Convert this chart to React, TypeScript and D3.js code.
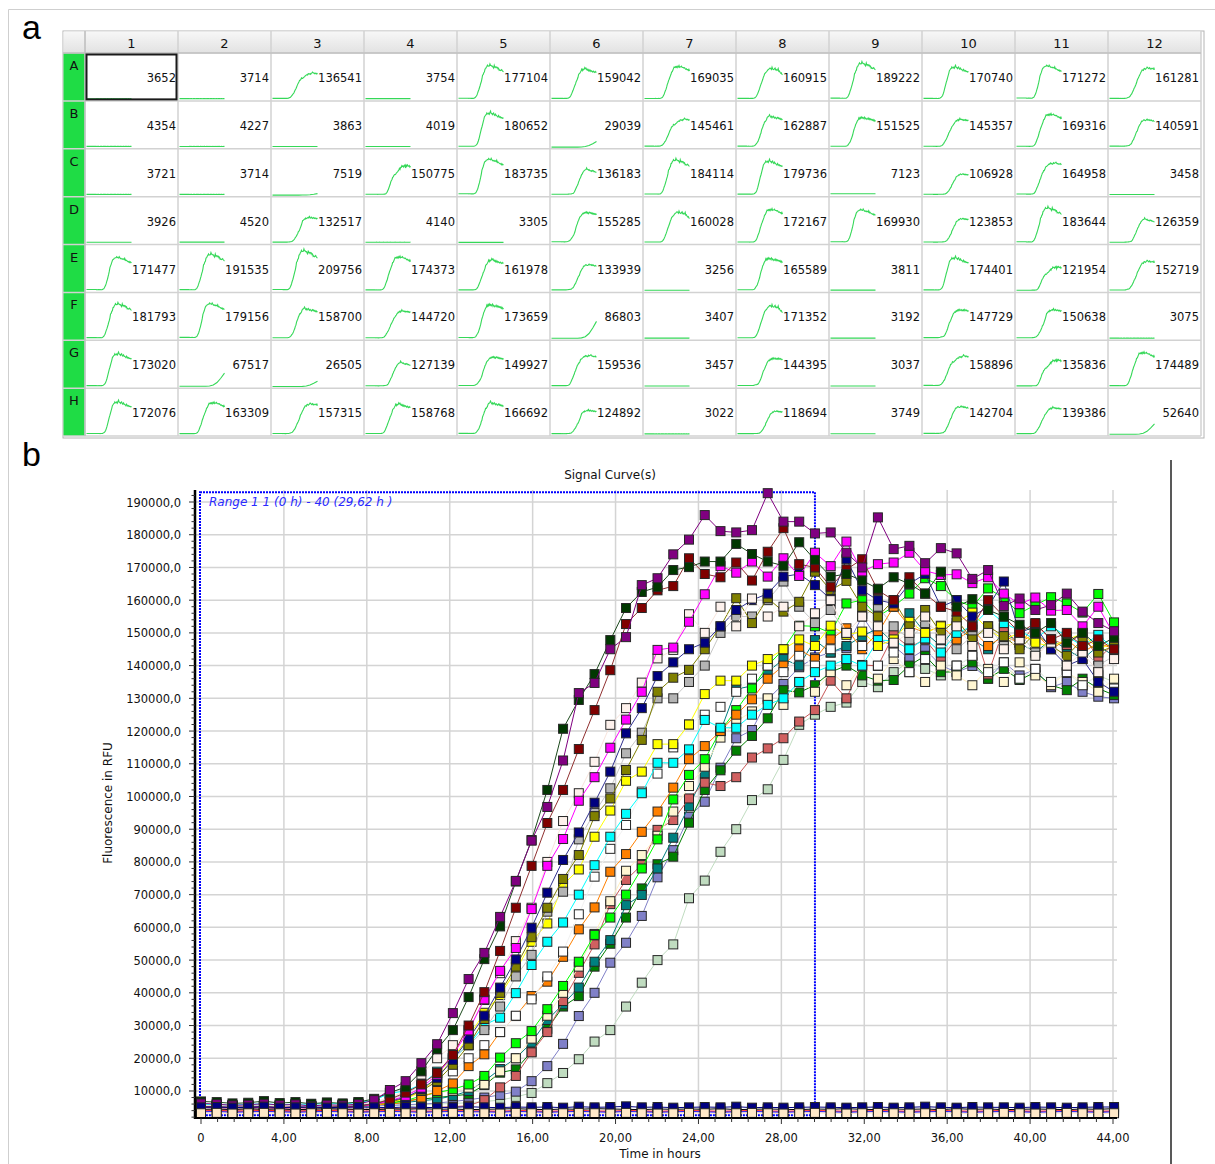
import { useEffect, useRef } from 'react';
import * as d3 from 'd3';

// ---- panel a: plate overview ----
const ROWS = ['A', 'B', 'C', 'D', 'E', 'F', 'G', 'H'];
const COLS = ['1', '2', '3', '4', '5', '6', '7', '8', '9', '10', '11', '12'];

const WELL_VALUES = [
  [3652, 3714, 136541, 3754, 177104, 159042, 169035, 160915, 189222, 170740, 171272, 161281],
  [4354, 4227, 3863, 4019, 180652, 29039, 145461, 162887, 151525, 145357, 169316, 140591],
  [3721, 3714, 7519, 150775, 183735, 136183, 184114, 179736, 7123, 106928, 164958, 3458],
  [3926, 4520, 132517, 4140, 3305, 155285, 160028, 172167, 169930, 123853, 183644, 126359],
  [171477, 191535, 209756, 174373, 161978, 133939, 3256, 165589, 3811, 174401, 121954, 152719],
  [181793, 179156, 158700, 144720, 173659, 86803, 3407, 171352, 3192, 147729, 150638, 3075],
  [173020, 67517, 26505, 127139, 149927, 159536, 3457, 144395, 3037, 158896, 135836, 174489],
  [172076, 163309, 157315, 158768, 166692, 124892, 3022, 118694, 3749, 142704, 139386, 52640],
];

// which curve of panel b each mini plot follows (-1 = late rise only)
const WELL_CURVE = [
  [21, 21, 9, 21, 0, 6, 3, 5, 0, 2, 1, 12],
  [21, 21, 21, 21, 2, -1, 9, 7, 4, 11, 3, 16],
  [21, 21, -1, 14, 1, 17, 0, 2, 21, 18, 8, 21],
  [21, 21, 15, 21, 21, 10, 5, 3, 1, 18, 0, 17],
  [1, 0, 0, 3, 6, 16, 21, 4, 21, 2, 14, 12],
  [0, 1, 7, 11, 4, -1, 21, 5, 21, 13, 15, 21],
  [2, -1, -1, 17, 10, 8, 21, 13, 21, 9, 14, 3],
  [2, 3, 12, 6, 7, 15, 21, 18, 21, 16, 11, -1],
];

// shape of the wells that only start rising at the end (fraction of final value)
const LATE_RISE = [0.03, 0.03, 0.03, 0.03, 0.03, 0.03, 0.03, 0.03, 0.05, 0.12, 0.3, 0.62, 1.0];

// ---- panel b: signal curves, values in thousand RFU, one per cycle ----
const PURPLE = [6.2, 6.0, 5.6, 5.8, 6.1, 5.7, 5.9, 5.4, 5.8, 5.6, 6.0,
  7.2, 10.3, 13.0, 18.5, 24.3, 33.8, 44.2, 52.2, 63.2, 74.2,
  86.5, 96.8, 111.0, 131.6, 134.7, 145.0, 148.7, 164.6, 166.7, 174.0,
  178.5, 186.0, 181.1, 180.7, 181.4, 192.7, 184.0, 184.0, 180.4, 180.7,
  174.5, 170.0, 185.3, 175.6, 176.6, 171.3, 175.9, 174.3, 166.5, 169.2,
  158.2, 160.5, 157.0, 158.5, 162.0, 156.5, 153.0, 150.5];
const DARK_GREEN = [6.8, 6.6, 6.2, 6.4, 6.9, 6.3, 6.6, 6.1, 6.5, 6.2, 6.6,
  7.6, 9.5, 11.2, 16.0, 22.8, 28.6, 38.7, 50.3, 60.3, 74.0,
  86.7, 102.0, 120.7, 129.5, 137.4, 147.8, 157.6, 162.5, 164.0, 169.2,
  170.1, 171.8, 171.8, 177.2, 174.1, 171.8, 170.5, 177.7, 172.3, 167.2,
  168.0, 166.0, 163.5, 167.0, 165.0, 162.0, 168.7, 158.0, 160.3, 157.0,
  155.0, 152.5, 150.0, 153.0, 147.0, 150.0, 146.0, 148.5];
const DARK_RED = [5.2, 5.0, 5.1, 4.9, 5.2, 5.0, 5.1, 4.8, 5.0, 5.1, 5.4,
  6.0, 7.5, 9.5, 12.0, 15.5, 21.0, 30.0, 40.2, 52.8, 66.0,
  78.8, 91.9, 102.0, 114.5, 126.4, 138.6, 152.7, 157.6, 163.0, 164.3,
  172.8, 168.0, 167.0, 171.5, 166.0, 174.8, 182.0, 171.0, 170.0, 164.1,
  169.4, 172.5, 163.0, 160.0, 167.0, 162.0, 158.0, 156.5, 152.0, 160.0,
  155.0, 150.0, 153.0, 148.0, 150.0, 146.0, 148.0, 145.0];
const MAGENTA = [5.0, 4.9, 4.8, 5.0, 4.9, 4.7, 4.9, 4.8, 5.0, 4.9, 5.2,
  5.8, 7.0, 8.5, 11.0, 15.0, 21.0, 28.5, 38.0, 46.7, 53.7,
  65.6, 78.8, 87.0, 98.7, 105.9, 114.9, 123.5, 132.0, 144.8, 145.5,
  153.4, 161.8, 170.4, 168.4, 171.8, 167.2, 172.8, 167.4, 174.5, 170.4,
  177.9, 168.7, 171.0, 171.5, 174.5, 169.0, 167.7, 167.9, 165.2, 167.0,
  162.0, 158.8, 160.8, 156.8, 157.0, 152.0, 158.0, 149.4];
const WHITE_A = [5.6, 5.5, 5.3, 5.5, 5.4, 5.2, 5.5, 5.3, 5.4, 5.6, 5.8,
  6.5, 8.0, 10.0, 15.0, 20.0, 24.0, 28.6, 37.8, 46.0, 55.8,
  66.0, 80.0, 92.5, 101.0, 110.6, 121.9, 127.0, 134.8, 142.2, 144.8,
  155.7, 150.0, 158.0, 152.0, 160.5, 155.0, 158.0, 152.0, 156.0, 160.0,
  150.0, 155.0, 152.0, 147.0, 150.0, 155.0, 148.0, 152.0, 146.0, 150.0,
  145.0, 148.0, 143.0, 147.0, 140.0, 144.0, 138.0, 142.0];
const NAVY = [5.4, 5.3, 5.2, 5.4, 5.3, 5.1, 5.3, 5.2, 5.3, 5.4, 5.6,
  6.2, 7.0, 8.0, 10.5, 14.0, 19.5, 26.0, 33.0, 41.6, 50.2,
  59.9, 70.6, 80.6, 89.0, 98.1, 107.6, 119.3, 127.0, 136.8, 141.0,
  145.0, 147.0, 152.0, 157.0, 160.0, 162.0, 167.2, 168.0, 164.6, 160.3,
  172.5, 163.0, 160.0, 159.0, 165.0, 168.0, 158.0, 160.0, 155.0, 158.0,
  165.7, 150.0, 152.0, 145.0, 140.0, 142.0, 135.0, 132.0];
const OLIVE = [5.3, 5.2, 5.1, 5.3, 5.2, 5.0, 5.2, 5.1, 5.2, 5.3, 5.5,
  6.0, 6.5, 8.0, 10.0, 13.0, 18.0, 24.0, 32.0, 40.0, 48.0,
  57.0, 66.0, 74.8, 82.1, 94.0, 99.4, 108.1, 117.3, 132.0, 136.3,
  138.7, 145.0, 152.0, 160.6, 153.0, 160.6, 156.5, 159.5, 168.7, 163.0,
  165.9, 158.0, 155.0, 160.0, 152.0, 157.0, 150.0, 154.0, 148.0, 152.0,
  149.0, 145.0, 150.0, 146.0, 143.0, 148.0, 144.0, 146.0];
const SILVER = [5.5, 5.4, 5.3, 5.5, 5.4, 5.2, 5.4, 5.3, 5.4, 5.5, 5.8,
  6.3, 7.5, 9.0, 12.0, 15.5, 20.0, 24.0, 28.6, 35.8, 45.0,
  51.6, 64.8, 70.9, 86.9, 95.0, 102.5, 113.2, 119.5, 130.0, 130.0,
  135.0, 140.0, 150.0, 155.0, 155.0, 160.0, 165.7, 158.0, 153.0, 157.0,
  150.0, 155.0, 158.0, 152.0, 148.0, 153.0, 150.0, 145.0, 149.0, 152.0,
  146.0, 150.0, 144.0, 147.0, 142.0, 145.0, 140.0, 143.0];
const YELLOW = [5.0, 4.9, 4.8, 5.0, 4.9, 4.7, 4.9, 4.8, 4.9, 5.0, 5.3,
  5.8, 6.5, 7.5, 10.0, 14.0, 20.0, 26.6, 33.9, 39.3, 46.8,
  55.6, 61.2, 73.0, 77.7, 87.7, 95.7, 104.8, 107.6, 116.0, 116.0,
  122.0, 131.3, 135.4, 135.4, 140.0, 142.0, 145.0, 148.0, 146.0, 152.2,
  149.4, 150.4, 146.0, 148.0, 153.4, 150.0, 152.0, 153.0, 156.2, 151.0,
  148.0, 150.0, 147.0, 145.8, 148.0, 149.7, 145.0, 147.0];
const CYAN = [6.0, 5.8, 5.7, 5.9, 6.1, 5.8, 6.0, 5.9, 6.2, 6.0, 6.5,
  7.2, 9.3, 10.0, 12.0, 15.9, 20.0, 24.0, 30.2, 32.4, 39.9,
  48.5, 55.6, 61.5, 70.0, 79.0, 87.7, 94.7, 101.0, 110.3, 110.3,
  114.4, 123.4, 121.0, 121.0, 125.0, 128.0, 130.0, 135.0, 138.0, 140.0,
  142.0, 140.0, 147.8, 147.6, 145.0, 148.3, 144.0, 150.0, 152.0, 157.0,
  153.0, 150.7, 148.0, 152.0, 149.0, 146.0, 149.4, 145.0];
const WHITE_B = [5.7, 5.6, 5.5, 5.7, 5.6, 5.4, 5.6, 5.5, 5.6, 5.7, 6.0,
  6.6, 8.0, 9.5, 11.0, 13.0, 16.0, 20.0, 24.0, 28.0, 33.0,
  38.0, 45.0, 52.6, 64.0, 75.5, 84.0, 91.3, 101.5, 107.0, 115.0,
  122.0, 125.0, 127.4, 132.0, 136.0, 140.0, 138.0, 143.0, 140.0, 145.0,
  142.0, 146.0, 140.0, 144.0, 138.0, 142.0, 145.0, 140.0, 143.0, 138.0,
  141.0, 136.0, 139.0, 135.0, 138.0, 134.0, 137.0, 133.0];
const ORANGE = [5.2, 5.1, 5.0, 5.2, 5.1, 4.9, 5.1, 5.0, 5.1, 5.2, 5.4,
  5.8, 6.0, 6.5, 8.0, 10.0, 12.3, 17.6, 21.2, 28.0, 32.9,
  39.0, 43.4, 51.0, 59.4, 66.1, 77.0, 82.4, 89.2, 95.4, 102.7,
  111.4, 115.4, 120.0, 125.0, 129.7, 136.0, 140.0, 145.0, 142.0, 148.0,
  151.4, 145.0, 150.0, 158.0, 152.0, 150.0, 152.2, 148.0, 151.0, 146.0,
  149.0, 147.0, 150.0, 145.0, 148.0, 144.0, 147.0, 145.0];
const LIME = [5.1, 5.0, 4.9, 5.1, 5.0, 4.8, 5.0, 4.9, 5.0, 5.1, 5.3,
  5.6, 6.2, 7.0, 8.5, 9.5, 10.5, 12.0, 14.6, 20.2, 24.6,
  28.3, 35.0, 42.1, 49.5, 57.7, 63.0, 70.0, 78.0, 86.9, 99.1,
  106.6, 111.4, 120.0, 126.4, 133.0, 140.0, 145.0, 152.2, 152.0, 150.0,
  159.0, 160.0, 155.0, 158.0, 162.0, 166.7, 164.3, 160.0, 158.0, 163.6,
  160.6, 156.0, 158.5, 160.9, 159.0, 156.2, 161.9, 153.2];
const CREAM = [5.6, 5.5, 5.4, 5.6, 5.5, 5.3, 5.5, 5.4, 5.5, 5.6, 5.8,
  6.2, 7.0, 8.0, 9.0, 9.5, 10.0, 11.0, 12.0, 16.0, 20.0,
  26.0, 33.0, 40.0, 48.0, 58.0, 68.0, 77.3, 82.1, 88.0, 95.4,
  103.2, 109.1, 118.0, 122.9, 126.0, 130.0, 128.0, 135.0, 132.0, 138.0,
  134.0, 140.0, 136.0, 142.0, 138.0, 135.0, 140.0, 137.0, 134.0, 139.0,
  135.0, 141.0, 137.0, 134.0, 138.0, 135.0, 132.0, 136.0];
const SALMON = [4.3, 4.2, 4.1, 4.3, 4.2, 4.0, 4.2, 4.1, 4.2, 4.3, 4.4,
  4.5, 4.6, 4.7, 4.8, 5.0, 5.2, 5.5, 7.2, 11.1, 14.6,
  21.8, 28.0, 37.5, 46.1, 54.8, 67.1, 74.5, 79.1, 89.8, 92.8,
  99.4, 104.2, 103.2, 105.9, 111.9, 114.7, 117.8, 122.9, 126.4, 135.4,
  130.0, 140.2, 139.9, 149.4, 145.6, 148.0, 142.0, 148.3, 152.7, 137.3,
  151.4, 146.3, 152.7, 148.0, 146.3, 150.0, 142.0, 146.8];
const TEAL = [5.3, 5.2, 5.1, 5.3, 5.2, 5.0, 5.2, 5.1, 5.2, 5.3, 5.5,
  5.8, 6.0, 6.5, 7.0, 7.5, 8.5, 10.0, 13.0, 16.7, 20.0,
  24.8, 31.7, 36.5, 41.6, 49.5, 56.1, 66.8, 69.9, 78.0, 87.4,
  97.0, 107.1, 120.0, 132.8, 133.8, 138.0, 142.0, 140.0, 147.8, 144.0,
  146.0, 149.0, 151.4, 147.0, 156.0, 150.0, 146.0, 152.0, 148.0, 145.0,
  150.0, 147.0, 144.0, 148.0, 145.0, 142.0, 146.0, 143.0];
const GREEN = [5.6, 5.5, 5.4, 5.6, 5.5, 5.3, 5.5, 5.4, 5.5, 5.6, 5.8,
  6.0, 6.5, 7.0, 7.5, 8.0, 8.5, 9.0, 11.8, 15.6, 16.6,
  22.0, 29.0, 35.8, 39.0, 48.0, 55.0, 63.0, 71.9, 79.3, 81.6,
  92.0, 102.0, 108.0, 114.0, 118.5, 123.9, 132.5, 131.8, 134.0, 138.0,
  140.0, 137.0, 135.4, 135.6, 140.0, 143.0, 138.0, 138.1, 141.0, 136.0,
  139.0, 135.6, 138.0, 134.0, 132.5, 136.0, 133.0, 131.0];
const SLATE = [5.0, 4.9, 4.8, 5.0, 4.9, 4.7, 4.9, 4.8, 4.9, 5.0, 5.2,
  5.4, 5.6, 5.8, 6.0, 6.3, 6.8, 7.3, 8.0, 8.8, 9.8,
  13.0, 17.6, 24.4, 32.9, 40.0, 49.2, 55.3, 63.5, 75.3, 83.6,
  93.8, 98.4, 108.8, 117.8, 120.3, 129.7, 134.4, 139.5, 142.5, 144.0,
  145.3, 155.2, 148.0, 146.0, 142.0, 145.0, 140.0, 138.0, 139.9, 136.0,
  141.0, 137.0, 138.7, 133.4, 135.0, 132.0, 130.5, 130.0];
const PALE_GREEN = [5.4, 5.3, 5.2, 5.4, 5.3, 5.1, 5.3, 5.2, 5.3, 5.4, 5.5,
  5.5, 5.6, 5.7, 5.8, 6.0, 6.2, 6.4, 6.8, 7.2, 8.2,
  9.4, 12.4, 15.5, 19.7, 25.1, 28.6, 35.8, 43.1, 50.0, 54.8,
  68.9, 74.3, 83.1, 90.0, 98.9, 102.2, 111.2, 121.9, 125.0, 127.4,
  128.7, 135.0, 133.4, 138.0, 141.2, 139.0, 137.0, 140.0, 142.7, 138.0,
  140.0, 136.0, 139.0, 135.0, 138.0, 134.0, 137.0, 135.0];
const RED_FLAT = [3.9, 4.0, 3.8, 3.9, 4.0, 3.9, 3.8, 3.9, 4.0, 3.9, 3.8,
  3.9, 4.0, 3.9, 3.8, 3.9, 4.0, 3.9, 3.9, 3.8, 4.0,
  3.9, 3.8, 3.9, 4.0, 3.9, 3.8, 4.0, 3.9, 3.8, 3.9,
  4.0, 3.9, 3.8, 3.9, 4.0, 3.9, 3.8, 3.9, 4.0, 3.9,
  3.8, 3.9, 4.0, 3.9, 3.8, 3.9, 4.0, 3.9, 3.8, 3.9,
  4.0, 3.9, 3.8, 3.9, 4.0, 3.9, 3.8, 3.9];
const BLUE_FLAT = [3.6, 3.7, 3.5, 3.6, 3.7, 3.6, 3.5, 3.6, 3.7, 3.6, 3.5,
  3.6, 3.7, 3.6, 3.5, 3.6, 3.7, 3.6, 3.6, 3.5, 3.7,
  3.6, 3.5, 3.6, 3.7, 3.6, 3.5, 3.7, 3.6, 3.5, 3.6,
  3.7, 3.6, 3.5, 3.6, 3.7, 3.6, 3.5, 3.6, 3.7, 3.6,
  3.5, 3.6, 3.7, 3.6, 3.5, 3.6, 3.7, 3.6, 3.5, 3.6,
  3.7, 3.6, 3.5, 3.6, 3.7, 3.6, 3.5, 3.6];
const BLACK_FLAT = [4.4, 4.5, 4.3, 4.6, 4.4, 4.5, 4.3, 4.4, 4.6, 4.5, 4.4,
  4.3, 4.5, 4.4, 4.6, 4.4, 4.5, 4.3, 4.4, 4.5, 4.6,
  4.4, 4.3, 4.5, 4.4, 4.6, 4.5, 4.4, 4.3, 4.5, 4.4,
  4.5, 4.4, 4.6, 4.3, 4.4, 4.5, 4.4, 4.3, 4.5, 4.4,
  4.6, 4.4, 4.3, 4.5, 4.4, 4.5, 4.3, 4.6, 4.4, 4.5,
  4.3, 4.4, 4.5, 4.4, 4.3, 4.5, 4.4, 4.6];
const NAVY_FLAT = [5.0, 5.1, 4.9, 5.0, 5.2, 4.9, 5.0, 5.1, 4.9, 5.0, 5.1,
  5.0, 4.9, 5.1, 5.0, 4.9, 5.0, 5.2, 5.0, 4.9, 5.1,
  5.0, 5.1, 4.9, 5.2, 5.0, 5.1, 5.3, 5.0, 5.1, 4.9,
  5.0, 5.1, 5.0, 5.2, 4.9, 5.0, 4.9, 5.0, 5.1, 5.0,
  4.9, 5.0, 5.1, 4.9, 5.0, 5.2, 5.0, 4.9, 5.1, 5.0,
  5.0, 4.9, 5.1, 5.0, 4.9, 5.0, 5.1, 5.1];
const CREAM_FLAT = [3.2, 3.3, 3.1, 3.2, 3.3, 3.2, 3.1, 3.2, 3.3, 3.2, 3.1,
  3.2, 3.3, 3.2, 3.1, 3.2, 3.3, 3.2, 3.2, 3.1, 3.3,
  3.2, 3.1, 3.2, 3.3, 3.2, 3.1, 3.3, 3.2, 3.1, 3.2,
  3.3, 3.2, 3.1, 3.2, 3.3, 3.2, 3.1, 3.2, 3.3, 3.2,
  3.1, 3.2, 3.3, 3.2, 3.1, 3.2, 3.3, 3.2, 3.1, 3.2,
  3.3, 3.2, 3.1, 3.2, 3.3, 3.2, 3.1, 3.2];

const SERIES = [
  { values: PURPLE, fill: '#800080', line: '#800080' },
  { values: DARK_GREEN, fill: '#003800', line: '#1c4a1c' },
  { values: DARK_RED, fill: '#800000', line: '#903030' },
  { values: MAGENTA, fill: '#ff00ff', line: '#ff00ff' },
  { values: WHITE_A, fill: '#fdf1ec', line: '#f8e4dc' },
  { values: NAVY, fill: '#000080', line: '#303090' },
  { values: OLIVE, fill: '#808000', line: '#808000' },
  { values: SILVER, fill: '#b4b4b4', line: '#c8c8c8' },
  { values: YELLOW, fill: '#ffff00', line: '#ffff00' },
  { values: CYAN, fill: '#00ffff', line: '#00ffff' },
  { values: WHITE_B, fill: '#ffffff', line: '#f2f2f2' },
  { values: ORANGE, fill: '#ff8000', line: '#ff8000' },
  { values: LIME, fill: '#00ff00', line: '#00ff00' },
  { values: CREAM, fill: '#fff6d2', line: '#fff0c0' },
  { values: SALMON, fill: '#d06060', line: '#c85858' },
  { values: TEAL, fill: '#008080', line: '#008080' },
  { values: GREEN, fill: '#008000', line: '#008000' },
  { values: SLATE, fill: '#8080c8', line: '#8080c8' },
  { values: PALE_GREEN, fill: '#c0dcc0', line: '#c0dcc0' },
  { values: RED_FLAT, fill: '#ff0000', line: '#ff0000' },
  { values: BLUE_FLAT, fill: '#0000ff', line: '#0000ff' },
  { values: BLACK_FLAT, fill: '#000000', line: '#000000' },
  { values: NAVY_FLAT, fill: '#000080', line: '#000080' },
  { values: CREAM_FLAT, fill: '#ffe8c8', line: '#ffe0c0' },
];

const CYCLE_HOURS = 29.62 / 39; // cycle 40 at 29,62 h
const RANGE_END = 29.62;
const X_TICKS = d3.range(0, 45, 4);
const Y_TICKS = d3.range(10000, 190001, 10000);

const FONT = 'DejaVu Sans, Verdana, sans-serif';

export default function App() {
  const svgRef = useRef<SVGSVGElement>(null);

  useEffect(() => {
    if (!svgRef.current) return;
    const svg = d3.select(svgRef.current);
    svg.selectAll('*').remove();

    // outer frame of the figure
    svg.append('path').attr('d', 'M8.5,1164V9.5H1215')
      .attr('fill', 'none').attr('stroke', '#cfcfcf');

    svg.append('text').attr('x', 22).attr('y', 39)
      .attr('font-family', 'Liberation Sans, Arial, sans-serif').attr('font-size', 34).text('a');
    svg.append('text').attr('x', 22).attr('y', 466)
      .attr('font-family', 'Liberation Sans, Arial, sans-serif').attr('font-size', 34).text('b');

    // ================= panel a =================
    const colX = d3.scaleLinear().domain([0, 12]).range([85, 1201]);
    const rowY = d3.scaleLinear().domain([0, 8]).range([53, 436]);
    const cellW = colX(1) - colX(0);
    const cellH = rowY(1) - rowY(0);

    const defs = svg.append('defs');
    const grad = defs.append('linearGradient').attr('id', 'hdr').attr('x1', 0).attr('y1', 0).attr('x2', 0).attr('y2', 1);
    grad.append('stop').attr('offset', '0%').attr('stop-color', '#f7f7f7');
    grad.append('stop').attr('offset', '100%').attr('stop-color', '#e2e2e2');

    const table = svg.append('g');
    table.append('rect').attr('x', 63).attr('y', 31).attr('width', 1141).attr('height', 407)
      .attr('fill', '#fff').attr('stroke', '#b4b4b4');
    table.append('rect').attr('x', 63.5).attr('y', 31.5).attr('width', 1137.5).attr('height', 21.5)
      .attr('fill', 'url(#hdr)');
    table.append('rect').attr('x', 63.5).attr('y', rowY(0)).attr('width', 21.5).attr('height', rowY(8) - rowY(0))
      .attr('fill', '#1fdc45');

    // grid
    table.selectAll('.vgrid').data(d3.range(13)).enter().append('line')
      .attr('x1', d => colX(d)).attr('x2', d => colX(d))
      .attr('y1', 31).attr('y2', rowY(8))
      .attr('stroke', '#d2d2d2').attr('stroke-width', 1.5);
    table.selectAll('.hgrid').data(d3.range(9)).enter().append('line')
      .attr('x1', 63).attr('x2', colX(12))
      .attr('y1', d => rowY(d)).attr('y2', d => rowY(d))
      .attr('stroke', '#d2d2d2').attr('stroke-width', 1.5);
    table.append('line').attr('x1', 63).attr('x2', colX(12)).attr('y1', 53).attr('y2', 53)
      .attr('stroke', '#b8b8b8');
    table.append('line').attr('x1', 85).attr('x2', 85).attr('y1', 31).attr('y2', rowY(8))
      .attr('stroke', '#b8b8b8');

    table.selectAll('.colLabel').data(COLS).enter().append('text')
      .attr('x', (_, i) => colX(i) + cellW / 2).attr('y', 48)
      .attr('text-anchor', 'middle').attr('font-family', FONT).attr('font-size', 13)
      .attr('fill', '#111').text(d => d);
    table.selectAll('.rowLabel').data(ROWS).enter().append('text')
      .attr('x', 74).attr('y', (_, i) => rowY(i) + 17)
      .attr('text-anchor', 'middle').attr('font-family', FONT).attr('font-size', 13)
      .attr('fill', '#111').text(d => d);

    // mini plots + values (mini plots show a longer lead-in than panel b)
    const spark = d3.line<number>();
    WELL_VALUES.forEach((row, r) => {
      row.forEach((val, c) => {
        const x0 = colX(c) + 1.5;
        const base = rowY(r + 1) - 1.5;
        const k = WELL_CURVE[r][c];
        let pts: [number, number][];
        if (k < 0) {
          const sx = d3.scaleLinear().domain([0, LATE_RISE.length - 1]).range([x0, x0 + 45]);
          pts = LATE_RISE.map((f, i) => [sx(i), base - (f * val) / 5000]);
        } else {
          const vals = SERIES[k].values;
          const mx = d3.max(vals) as number;
          const sx = d3.scaleLinear().domain([-15, vals.length - 1]).range([x0, x0 + 45]);
          pts = vals.map((v, i) => [sx(i), base - (v / mx) * val / 5000]);
          pts.unshift([x0, pts[0][1]]);
        }
        table.append('path').attr('d', spark(pts) as string)
          .attr('fill', 'none').attr('stroke', '#35d858').attr('stroke-width', 1.1);
        table.append('text')
          .attr('x', colX(c + 1) - 2).attr('y', rowY(r) + 29)
          .attr('text-anchor', 'end').attr('font-family', FONT).attr('font-size', 11.5)
          .attr('fill', '#111').text(val);
      });
    });
    // selected cell
    table.append('rect').attr('x', colX(0) + 1.5).attr('y', rowY(0) + 1.5)
      .attr('width', cellW - 3).attr('height', cellH - 3)
      .attr('fill', 'none').attr('stroke', '#1a1a1a').attr('stroke-width', 2);

    // ================= panel b =================
    const x = d3.scaleLinear().domain([0, 44]).range([201, 1113]);
    const y = d3.scaleLinear().domain([0, 190000]).range([1123.7, 502]);
    const plotTop = 490;
    const plotBottom = 1118;
    const plotLeft = 195;
    const plotRight = 1117;

    const chart = svg.append('g');

    chart.append('text').attr('x', 610).attr('y', 479).attr('text-anchor', 'middle')
      .attr('font-family', FONT).attr('font-size', 12).attr('fill', '#111').text('Signal Curve(s)');

    // grid
    chart.selectAll('.yg').data(Y_TICKS).enter().append('line')
      .attr('x1', plotLeft).attr('x2', plotRight)
      .attr('y1', d => y(d)).attr('y2', d => y(d))
      .attr('stroke', '#d4d4d4').attr('stroke-width', 1.5);
    chart.selectAll('.xg').data(X_TICKS.filter(t => t > 0)).enter().append('line')
      .attr('x1', d => x(d)).attr('x2', d => x(d))
      .attr('y1', plotTop).attr('y2', plotBottom)
      .attr('stroke', '#d4d4d4').attr('stroke-width', 1.5);

    // range box
    chart.append('rect')
      .attr('x', x(0) - 1).attr('y', y(193000))
      .attr('width', x(RANGE_END) - x(0) + 1).attr('height', y(2600) - y(193000))
      .attr('fill', 'none').attr('stroke', '#0000ff').attr('stroke-width', 2)
      .attr('stroke-dasharray', '2,1');

    // curves
    const times = d3.range(59).map(i => i * CYCLE_HOURS);
    const line = d3.line<number>().x((_, i) => x(times[i])).y(v => y(v * 1000));
    const order = [...d3.range(18, -1, -1), 19, 20, 21, 22, 23];
    order.forEach(si => {
      const s = SERIES[si];
      const g = chart.append('g');
      g.append('path').attr('d', line(s.values) as string)
        .attr('fill', 'none').attr('stroke', s.line).attr('stroke-width', 1);
      g.selectAll('rect').data(s.values).enter().append('rect')
        .attr('x', (_, i) => x(times[i]) - 4.5)
        .attr('y', v => y(v * 1000) - 4.5)
        .attr('width', 9).attr('height', 9)
        .attr('fill', s.fill)
        .attr('stroke', '#262626').attr('stroke-width', 1);
    });

    chart.append('text').attr('x', 209).attr('y', 506)
      .attr('font-family', FONT).attr('font-size', 12).attr('font-style', 'italic')
      .attr('fill', '#2a2aff').text('Range 1 1 (0 h) - 40 (29,62 h )');

    // axes
    chart.append('line').attr('x1', plotLeft).attr('x2', plotLeft).attr('y1', plotTop).attr('y2', plotBottom + 1)
      .attr('stroke', '#000').attr('stroke-width', 2.5);
    chart.append('line').attr('x1', plotLeft - 1).attr('x2', plotRight).attr('y1', plotBottom).attr('y2', plotBottom)
      .attr('stroke', '#000').attr('stroke-width', 2);

    chart.selectAll('.ymin').data(d3.range(2000, 193001, 2000)).enter().append('line')
      .attr('x1', d => (d % 10000 === 0 ? plotLeft - 6 : plotLeft - 3.5)).attr('x2', plotLeft)
      .attr('y1', d => y(d)).attr('y2', d => y(d))
      .attr('stroke', '#333').attr('stroke-width', 1);
    chart.selectAll('.xmin').data(d3.range(0, 44.01, 0.8)).enter().append('line')
      .attr('x1', d => x(d)).attr('x2', d => x(d))
      .attr('y1', plotBottom).attr('y2', d => (Math.abs(d / 4 - Math.round(d / 4)) < 0.01 ? plotBottom + 6 : plotBottom + 4))
      .attr('stroke', '#333').attr('stroke-width', 1);

    chart.selectAll('.yl').data(Y_TICKS).enter().append('text')
      .attr('x', 181).attr('y', d => y(d) + 4.5)
      .attr('text-anchor', 'end').attr('font-family', FONT).attr('font-size', 11.5)
      .attr('fill', '#111').text(d => `${d},0`);
    chart.selectAll('.xl').data(X_TICKS).enter().append('text')
      .attr('x', d => x(d)).attr('y', 1142)
      .attr('text-anchor', 'middle').attr('font-family', FONT).attr('font-size', 11.5)
      .attr('fill', '#111').text(d => (d === 0 ? '0' : `${d},00`));

    chart.append('text').attr('x', 660).attr('y', 1158).attr('text-anchor', 'middle')
      .attr('font-family', FONT).attr('font-size', 12).attr('fill', '#111').text('Time in hours');
    chart.append('text').attr('transform', 'translate(112,803) rotate(-90)').attr('text-anchor', 'middle')
      .attr('font-family', FONT).attr('font-size', 12).attr('fill', '#111').text('Fluorescence in RFU');

    svg.append('line').attr('x1', 1171).attr('x2', 1171).attr('y1', 460).attr('y2', 1164)
      .attr('stroke', '#222').attr('stroke-width', 1.5);
  }, []);

  return (
    <div style={{ position: 'absolute', left: 0, top: 0 }}>
      <svg ref={svgRef} width={1215} height={1164} style={{ display: 'block', background: '#fff' }} />
    </div>
  );
}
